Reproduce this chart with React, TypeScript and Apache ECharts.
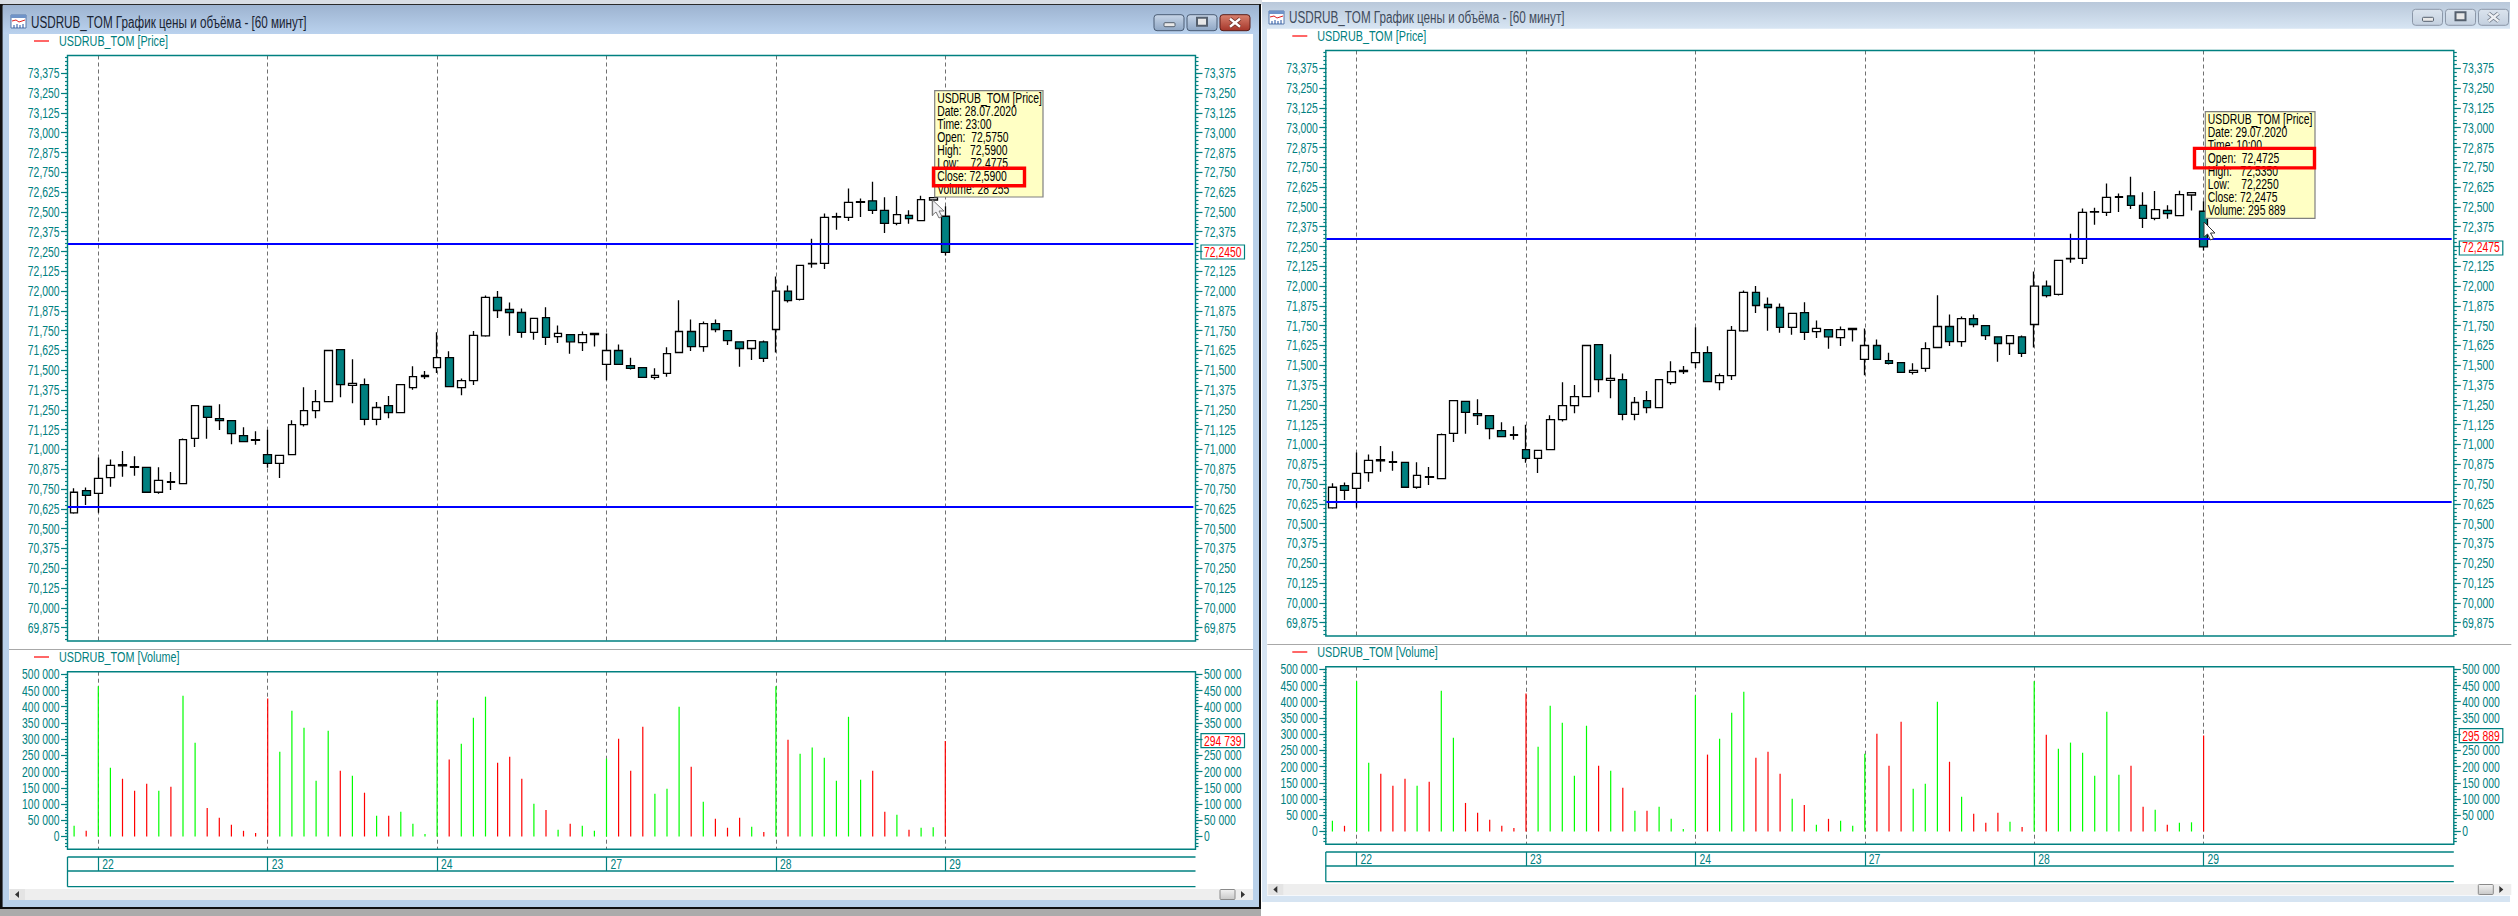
import React, { useEffect, useRef } from "react";
import * as echarts from "echarts";

// ---- data ----
const opens = [70.6,70.74,70.7225,70.8225,70.905,70.8925,70.8875,70.73,70.7975,70.785,71.07,71.2725,71.195,71.1825,71.0875,71.0625,70.9675,70.9125,70.9675,71.1575,71.245,71.3025,71.63,71.405,71.41,71.19,71.2775,71.2325,71.39,71.46,71.5175,71.58,71.39,71.435,71.7175,71.96,71.885,71.865,71.74,71.8325,71.7125,71.725,71.675,71.725,71.5375,71.625,71.53,71.5175,71.455,71.48,71.6125,71.745,71.65,71.795,71.75,71.68,71.6375,71.68,71.7575,72.0,71.9475,72.1725,72.175,72.4675,72.465,72.56,72.57,72.51,72.4275,72.4775,72.445,72.575,72.4725];
const closes = [70.73,70.71,70.8175,70.9,70.8975,70.8875,70.73,70.805,70.7925,71.0625,71.2775,71.2025,71.1825,71.1,71.05,71.0575,70.9125,70.9625,71.1575,71.245,71.3025,71.625,71.41,71.4175,71.19,71.265,71.2325,71.41,71.46,71.4675,71.58,71.3975,71.435,71.72,71.96,71.8775,71.865,71.74,71.8275,71.7075,71.7325,71.68,71.725,71.7325,71.625,71.5375,71.5125,71.455,71.4675,71.605,71.745,71.65,71.795,71.7575,71.6875,71.6375,71.6875,71.575,72.0,71.94,72.1625,72.175,72.465,72.47,72.56,72.565,72.51,72.4275,72.4825,72.4575,72.5775,72.59];
const closeLastLeft = 72.245;
const closeLastRight = 72.2475;
const lows = [70.595,70.65,70.6,70.765,70.8275,70.835,70.73,70.72,70.745,70.78,71.015,71.0675,71.1225,71.0325,71.0475,71.03,70.885,70.82,70.9675,71.145,71.1975,71.3025,71.33,71.2925,71.1525,71.1525,71.1975,71.2325,71.3775,71.445,71.4825,71.3975,71.3425,71.4075,71.7125,71.83,71.7175,71.705,71.6925,71.66,71.6725,71.605,71.6225,71.65,71.4375,71.5375,71.505,71.455,71.4425,71.46,71.6125,71.6225,71.6175,71.74,71.66,71.5225,71.565,71.5525,71.6125,71.9275,71.94,72.1475,72.14,72.3875,72.4425,72.4675,72.4875,72.3675,72.415,72.425,72.445,72.4775,72.225];
const highs = [70.755,70.76,70.95,70.9375,70.99,70.9575,70.8875,70.8875,70.8575,71.07,71.2775,71.2725,71.285,71.1825,71.14,71.115,71.125,70.9625,71.185,71.3925,71.375,71.625,71.63,71.57,71.4475,71.3,71.3375,71.41,71.525,71.495,71.74,71.62,71.4475,71.7475,71.9725,72.0,71.9275,71.89,71.8275,71.8975,71.7825,71.725,71.745,71.7325,71.7325,71.6625,71.58,71.5175,71.5125,71.645,71.9425,71.82,71.8075,71.82,71.75,71.68,71.6875,71.6875,72.0925,72.035,72.1625,72.33,72.49,72.495,72.6475,72.585,72.69,72.5925,72.6,72.51,72.6025,72.59,72.535];
const volumes = [33000,17500,463000,212000,178000,141000,162500,141000,153000,434000,289000,88000,58000,36000,17500,11000,425000,261000,388000,335000,172000,326000,203000,187000,135000,64000,64000,76000,39000,8000,419000,237000,286000,366000,431000,227000,246000,178000,101000,82000,21000,39000,33000,17500,240000,301000,203000,338000,132000,147000,400000,215000,107000,54500,27000,58000,30000,14000,463000,298000,255000,274000,243000,172000,369000,175000,203000,76000,67000,21000,27000,28255];
const volumeLastLeft = 294739;
const volumeLastRight = 295889;
const levelLines = [72.3037, 70.637];
const dayLabels = ["22", "23", "24", "27", "28", "29"];
const dayIndexes = [2, 16, 30, 44, 58, 72];
const priceTicks = [69.875,70,70.125,70.25,70.375,70.5,70.625,70.75,70.875,71,71.125,71.25,71.375,71.5,71.625,71.75,71.875,72,72.125,72.25,72.375,72.5,72.625,72.75,72.875,73,73.125,73.25,73.375];
const volumeTicks = [0,50000,100000,150000,200000,250000,300000,350000,400000,450000,500000];
const tipLeft = ["USDRUB_TOM [Price]","Date: 28.07.2020","Time: 23:00","Open:  72,5750","High:   72,5900","Low:    72,4775","Close: 72,5900","Volume: 28 255"];
const tipRight = ["USDRUB_TOM [Price]","Date: 29.07.2020","Time: 10:00","Open:  72,4725","High:   72,5350","Low:    72,2250","Close: 72,2475","Volume: 295 889"];
const windowTitle = "USDRUB_TOM График цены и объёма - [60 минут]";
const priceLegend = "USDRUB_TOM [Price]";
const volumeLegend = "USDRUB_TOM [Volume]";

// ---- style ----
const TEAL = "#008080";
const FONT = '"Liberation Sans", Arial, sans-serif';
const NARROW = 0.74;
const SLOTS = 93;
const categories = Array.from({ length: SLOTS }, (_, i) => {
  const k = dayIndexes.indexOf(i);
  return k >= 0 ? dayLabels[k] : "";
});
const isDay = (i: number) => dayIndexes.includes(i);
const fmtPrice = (v: number) => v.toFixed(3).replace(".", ",");
const fmtPriceLast = (v: number) => v.toFixed(4).replace(".", ",");
const fmtVol = (v: number) => String(Math.round(v)).replace(/\B(?=(\d{3})+$)/g, " ");
const minorPrice: number[] = [];
for (let k = 2792; k <= 2939; k++) minorPrice.push(k * 0.025);
const minorVol: number[] = [];
for (let k = -3; k <= 50; k++) minorVol.push(k * 10000);

const PX = { left: 68.05, width: 12.1 * SLOTS, right: 1195.5 };

function buildPanel(dx: number, dy: number, lastClose: number, lastVol: number, base: { g: number; x: number; y: number }) {
  const grids: any[] = [];
  const xAxes: any[] = [];
  const yAxes: any[] = [];
  const series: any[] = [];
  const rightOffset = PX.right - (PX.left + PX.width);
  const addSet = (gridIndex: number, min: number, max: number, major: number[], minor: number[], fmt: (v: number) => string, fmtLast: (v: number) => string, hidden: number, lastLabel: number) => {
    const common = { type: "value", gridIndex, min, max, splitLine: { show: false }, axisLine: { show: false }, scale: true };
    const labelStyle = { color: TEAL, fontFamily: FONT, fontSize: 14, margin: 8.5, formatter: (v: number) => fmt(v) };
    const rightLabels = major.filter((v) => v !== hidden);
    const first = yAxes.length + base.y;
    const tick = (length: number, customValues: number[]) => ({ show: true, length, customValues, lineStyle: { color: TEAL, width: 1.2 } });
    yAxes.push(
      { ...common, position: "left", axisTick: tick(7, major), axisLabel: { show: true, ...labelStyle, customValues: major } },
      { ...common, position: "left", axisTick: tick(3, minor), axisLabel: { show: false } },
      { ...common, position: "right", offset: rightOffset, axisTick: tick(7, major), axisLabel: { show: true, ...labelStyle, customValues: rightLabels } },
      { ...common, position: "right", offset: rightOffset, axisTick: tick(3, minor), axisLabel: { show: false } },
      { ...common, position: "right", offset: rightOffset, axisTick: { show: false }, axisLabel: { show: true, ...labelStyle, color: "#ff0000", customValues: [lastLabel], formatter: () => fmtLast(lastLabel) } }
    );
    return first;
  };
  const mkX = (gridIndex: number) => ({
    type: "category", gridIndex, data: categories, boundaryGap: true,
    axisLine: { show: false }, axisTick: { show: false }, axisLabel: { show: false },
    splitLine: { show: true, alignWithLabel: true, interval: (i: number) => isDay(i), lineStyle: { color: "#707070", width: 1, type: [4, 3] } },
  });

  // price grid
  grids.push({ left: PX.left + dx, width: PX.width, top: 55.5 + dy, height: 585.5 });
  xAxes.push(mkX(base.g));
  const priceY = addSet(base.g, 69.791, 73.4874, priceTicks, minorPrice, fmtPrice, fmtPriceLast, 72.25, lastClose);
  const closesAll = [...closes, lastClose];
  series.push({
    type: "candlestick", xAxisIndex: base.x, yAxisIndex: priceY, barWidth: 8.2, silent: true,
    itemStyle: { color: "#ffffff", color0: TEAL, borderColor: "#000000", borderColor0: "#000000", borderColorDoji: "#000000", borderWidth: 1.3 },
    data: opens.map((o, i) => [o, closesAll[i], lows[i], highs[i]]),
    markLine: { silent: true, symbol: "none", animation: false, label: { show: false }, lineStyle: { color: "#0000ff", width: 2, type: "solid" }, data: levelLines.map((v) => ({ yAxis: v })) },
  });

  // volume grid
  grids.push({ left: PX.left + dx, width: PX.width, top: 671.7 + dy, height: 177.6 });
  xAxes.push(mkX(base.g + 1));
  const volY = addSet(base.g + 1, -39500, 508000, volumeTicks, minorVol, fmtVol, fmtVol, 300000, lastVol);
  const volsAll = [...volumes, lastVol];
  series.push({
    type: "bar", xAxisIndex: base.x + 1, yAxisIndex: volY, barWidth: 1.2, silent: true,
    data: volsAll.map((v, i) => ({ value: v, itemStyle: { color: closesAll[i] >= opens[i] ? "#00ff00" : "#ff0000" } })),
  });

  // date strip
  grids.push({ left: PX.left + dx, width: PX.width, top: 857 + dy, height: 14 });
  xAxes.push({
    type: "category", gridIndex: base.g + 2, data: categories, boundaryGap: true,
    axisLine: { show: false }, splitLine: { show: false },
    axisTick: { show: true, inside: true, length: 14, alignWithLabel: true, interval: (i: number) => isDay(i), lineStyle: { color: TEAL, width: 1.2 } },
    axisLabel: { show: true, inside: true, margin: 0, align: "left", verticalAlign: "bottom", padding: [0, 0, 0, 4], color: TEAL, fontFamily: FONT, fontSize: 14, interval: (i: number) => isDay(i) },
  });
  yAxes.push({ type: "value", gridIndex: base.g + 2, min: 0, max: 1, show: false });
  return { grids, xAxes, yAxes, series };
}

function txt(text: string, x: number, y: number, fill: string, size = 14, z = 5) {
  return { type: "text", z, silent: true, style: { text, x, y, fill, font: `${size}px ${FONT}`, verticalAlign: "middle", align: "left" } };
}
const rect = (x: number, y: number, w: number, h: number, fill: any, z = -1, stroke?: string, lw = 1, r = 0) => ({
  type: "rect", z, silent: true, shape: { x, y, width: w, height: h, r }, style: { fill, stroke, lineWidth: lw },
});
const ln = (x1: number, y1: number, x2: number, y2: number, stroke: string, lw = 1, z = 1) => ({
  type: "line", z, silent: true, shape: { x1, y1, x2, y2 }, style: { stroke, lineWidth: lw },
});
const grad = (a: string, b: string) => new echarts.graphic.LinearGradient(0, 0, 0, 1, [{ offset: 0, color: a }, { offset: 1, color: b }]);

function buttons(x0: number, y: number, active: boolean) {
  const out: any[] = [];
  const border = active ? "#4b5d75" : "#8b97a8";
  const fill = active ? grad("#c8d6e8", "#8ea6c4") : grad("#dbe4ee", "#c3d0df");
  out.push(rect(x0, y, 30, 16, fill, 2, border, 1, 3));
  out.push(rect(x0 + 10, y + 8, 11, 4, "#e8e8e8", 3, "#55606e", 1, 1));
  out.push(rect(x0 + 33, y, 30, 16, fill, 2, border, 1, 3));
  out.push(rect(x0 + 43, y + 3, 10, 8, "#e8e8e8", 3, "#55606e", 2));
  out.push(rect(x0 + 66, y, 30, 16, active ? grad("#d9826f", "#a5362a") : fill, 2, active ? "#5a1f1a" : border, 1, 3));
  const xc = active ? "#ffffff" : "#eef0f3";
  const xo = active ? "#6a2a22" : "#6a7482";
  out.push(ln(x0 + 76, y + 4, x0 + 86, y + 12, xo, 4, 3), ln(x0 + 86, y + 4, x0 + 76, y + 12, xo, 4, 3));
  out.push(ln(x0 + 76, y + 4, x0 + 86, y + 12, xc, 2.4, 4), ln(x0 + 86, y + 4, x0 + 76, y + 12, xc, 2.4, 4));
  return out;
}

function icon(x: number, y: number) {
  return [
    rect(x, y, 15, 13, "#ffffff", 2, "#5577aa", 1),
    rect(x, y, 15, 3, "#6f93c8", 3),
    { type: "polyline", z: 3, silent: true, shape: { points: [[x + 1, y + 6], [x + 5, y + 5], [x + 8, y + 7], [x + 14, y + 5]] }, style: { stroke: "#e02020", lineWidth: 1, fill: "none" } },
    ln(x + 3, y + 13, x + 3, y + 10, "#2050a0", 1, 3), ln(x + 6, y + 13, x + 6, y + 9, "#2050a0", 1, 3),
    ln(x + 9, y + 13, x + 9, y + 10, "#2050a0", 1, 3), ln(x + 12, y + 13, x + 12, y + 9, "#2050a0", 1, 3),
  ];
}

function panelFrame(dx: number, dy: number, priceBoxY: number, volBoxY: number) {
  const L = 67.5 + dx, R = PX.right + dx;
  const frame = (y1: number, y2: number) => ({ type: "rect", z: 3, silent: true, shape: { x: L, y: y1 + dy, width: R - L, height: y2 - y1 }, style: { fill: "none", stroke: TEAL, lineWidth: 1.4 } });
  const box = (cy: number) => rect(1201 + dx, cy + dy - 7, 43.5, 14, "none", 3, TEAL, 1.2);
  return [
    frame(55.5, 641),
    frame(671.7, 849.3),
    box(priceBoxY),
    box(volBoxY),
    ln(L, 857 + dy, R, 857 + dy, TEAL, 1.3, 3), ln(L, 871 + dy, R, 871 + dy, TEAL, 1.3, 3), ln(L, 886.7 + dy, R, 886.7 + dy, TEAL, 1.3, 3),
    ln(L, 857 + dy, L, 886.7 + dy, TEAL, 1.3, 3),
    ln(34 + dx, 41 + dy, 49 + dx, 41 + dy, "#ff0000", 1.2, 3),
    txt(priceLegend, 59 + dx, 41 + dy, TEAL, 14.6),
    ln(34 + dx, 657 + dy, 49 + dx, 657 + dy, "#ff0000", 1.2, 3),
    txt(volumeLegend, 59 + dx, 657 + dy, TEAL, 14.6),
    ln(9 + dx, 649.5 + dy, 1253 + dx, 649.5 + dy, "#a8a8a8", 1.2, 1),
    rect(9 + dx, 889 + dy, 1244, 11, "#eeeeee", 0),
    rect(10 + dx, 889 + dy, 15, 11, "#e4e4e4", 1),
    { type: "polygon", z: 2, silent: true, shape: { points: [[15 + dx, 894.5 + dy], [19 + dx, 891 + dy], [19 + dx, 898 + dy]] }, style: { fill: "#333" } },
    rect(1220 + dx, 889.5 + dy, 15, 10, grad("#f2f2f2", "#c8c8c8"), 2, "#8a8a8a", 1, 1),
    { type: "polygon", z: 2, silent: true, shape: { points: [[1245 + dx, 894.5 + dy], [1241 + dx, 891 + dy], [1241 + dx, 898 + dy]] }, style: { fill: "#333" } },
  ];
}

function tooltip(x: number, y: number, w: number, h: number, lines: string[], textY: number) {
  const out: any[] = [rect(x, y, w, h, "#ffffc4", 20, "#808080", 1.2)];
  lines.forEach((l, i) => out.push(txt(l, x + 2.5, textY + i * 13, "#000000", 14, 21)));
  return out;
}

export default function App() {
  const ref = useRef<HTMLDivElement>(null);
  useEffect(() => {
    if (!ref.current) return;
    const chart = echarts.init(ref.current, undefined, { renderer: "svg", width: 2518, height: 916 });
    const a = buildPanel(0, 0, closeLastLeft, volumeLastLeft, { g: 0, x: 0, y: 0 });
    const b = buildPanel(1258.3, -5, closeLastRight, volumeLastRight, { g: 3, x: 3, y: a.yAxes.length });
    const graphic: any[] = [
      // left window chrome
      rect(0, 0, 1262, 5, "#d8dde4", -2),
      rect(0, 5, 1261, 904, "#b9d1ea", -2),
      rect(0, 4, 1261, 1.4, "#2a2a2a", -1),
      rect(3, 5, 1256, 29, grad("#9db3d0", "#bad2ee"), -1),
      rect(9, 34, 1244, 866, "#ffffff", -1),
      rect(0, 4, 2.6, 905, "#111111", 0),
      rect(1259, 4, 2, 905, "#111111", 0),
      rect(0, 907, 1261, 2, "#111111", 0),
      rect(0, 909, 1261, 7, "#ababab", 0),
      // right window chrome
      rect(1262, 2, 1248, 900, "#d6e4f2", -2),
      rect(1262, 2, 1248, 26.7, grad("#b9c8da", "#d7e5f3"), -1),
      rect(1267, 28.7, 1243, 867, "#ffffff", -1),
      ...buttons(1154, 14.7, true),
      ...buttons(2412.5, 9.3, false),
      ...icon(11, 15),
      ...icon(1269, 11),
      txt(windowTitle, 31, 22.7, "#1a2433", 15.8),
      txt(windowTitle, 1289, 17.7, "#414c5c", 15.8),
      ...panelFrame(0, 0, 252, 740.7),
      ...panelFrame(1258.3, -5, 253, 740.7),
      // crosshair tooltips
      ...tooltip(934.7, 90.7, 108.3, 106.3, tipLeft, 98.3),
      { type: "rect", z: 22, silent: true, shape: { x: 933.5, y: 168.3, width: 91, height: 17.5 }, style: { fill: "none", stroke: "#ff0000", lineWidth: 3.4 } },
      { type: "polygon", z: 23, silent: true, shape: { points: [[932.5, 200], [932.5, 215], [936, 212], [939, 218], [942, 216.5], [939, 211], [944, 211]] }, style: { fill: "rgba(230,230,235,0.55)", stroke: "#777", lineWidth: 1 } },
      ...tooltip(2205.3, 111.7, 109.7, 106.6, tipRight, 119),
      { type: "rect", z: 22, silent: true, shape: { x: 2194.5, y: 148.4, width: 120, height: 19.5 }, style: { fill: "none", stroke: "#ff0000", lineWidth: 3.4 } },
      { type: "polygon", z: 23, silent: true, shape: { points: [[2204, 222], [2204, 237], [2207.5, 234], [2210.5, 240], [2213.5, 238.5], [2210.5, 233], [2215, 233]] }, style: { fill: "#ffffff", stroke: "#333", lineWidth: 1 } },
    ];
    chart.setOption({
      animation: false,
      textStyle: { fontFamily: FONT },
      grid: [...a.grids, ...b.grids],
      xAxis: [...a.xAxes, ...b.xAxes],
      yAxis: [...a.yAxes, ...b.yAxes],
      series: [...a.series, ...b.series],
      graphic: { elements: graphic },
    });
    // The reference's screen font is condensed: narrow the installed font's real text glyphs to match.
    ref.current.querySelectorAll("svg text").forEach((t: any) => {
      const w = t.getComputedTextLength();
      if (w > 0) {
        t.setAttribute("textLength", String(w * NARROW));
        t.setAttribute("lengthAdjust", "spacingAndGlyphs");
      }
    });
    return () => chart.dispose();
  }, []);
  return <div ref={ref} style={{ position: "fixed", left: 0, top: 0, width: 2518, height: 916, background: "#ffffff" }} />;
}
